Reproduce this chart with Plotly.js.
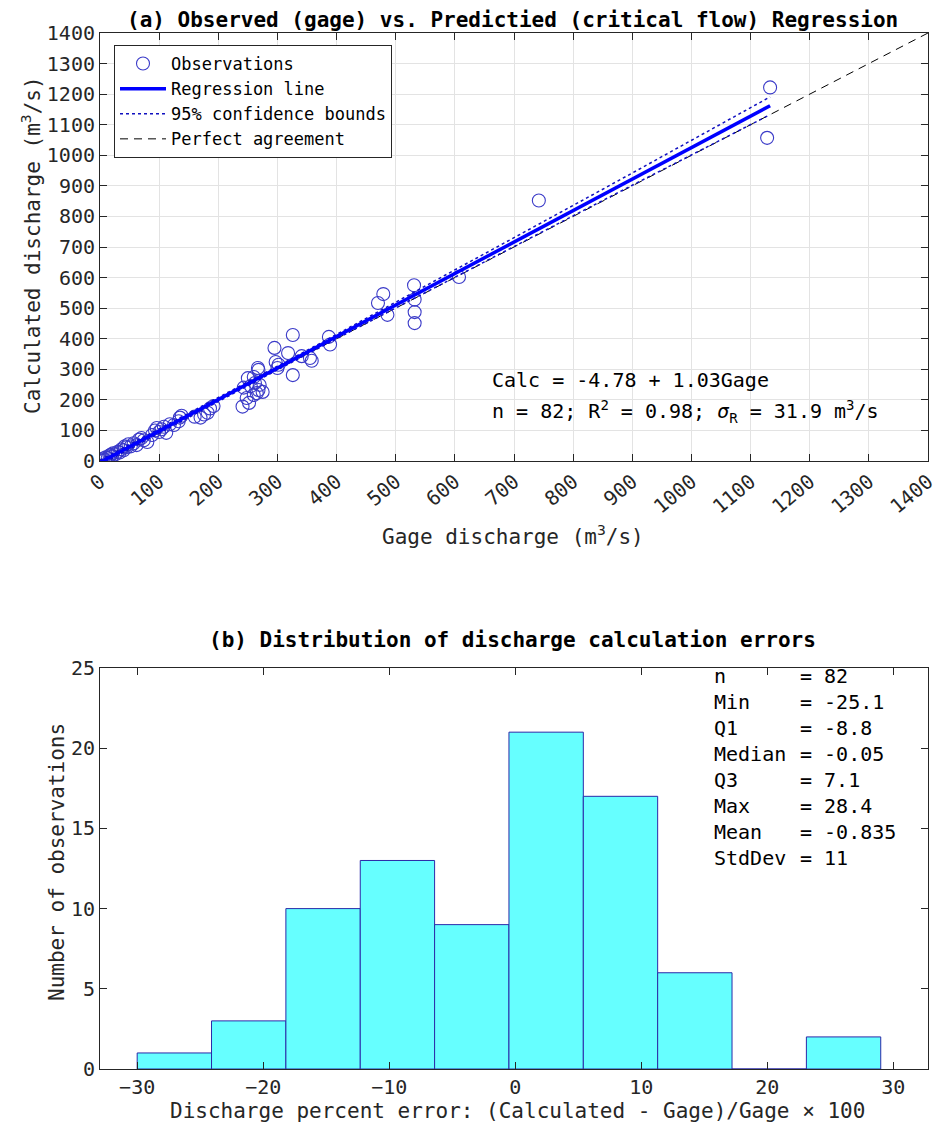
<!DOCTYPE html>
<html>
<head>
<meta charset="utf-8">
<script src="https://cdn.plot.ly/plotly-3.0.1.min.js"></script>
<style>html,body{margin:0;padding:0;background:#fff;}#chart{width:943px;height:1125px;}</style>
</head>
<body>
<div id="chart"></div>
<script>
// ---- Panel (a): observed (gage) vs calculated discharge, m3/s ----
var gageQ = [2, 5, 8, 10, 13, 16, 18, 20, 22, 26, 30, 33, 36, 40, 42, 45, 48, 52, 57, 62,
             66, 70, 74, 80, 88, 93, 96, 100, 104, 108, 112, 118, 125, 133, 135, 138, 160, 170,
             176, 182, 186, 192,
             241, 243, 248, 250, 252, 255, 260, 260, 262, 265, 267, 268, 268, 270, 275,
             295, 297, 300, 302, 318, 326, 326, 341, 355, 358, 387, 389,
             470, 479, 486, 531, 532, 532, 532, 607, 742, 1128, 1133];
var calcQ = [2, 8, 4, 12, 10, 18, 20, 15, 25, 22, 30, 28, 38, 35, 48, 45, 55, 48, 58, 52,
             70, 75, 68, 62, 85, 100, 108, 95, 104, 112, 92, 120, 118, 130, 142, 148, 145, 142,
             152, 158, 172, 180,
             178, 240, 206, 271, 190, 245, 216, 275, 255, 222, 304, 298, 232, 249, 226,
             370, 324, 304, 315, 353, 412, 281, 343, 337, 328, 406, 381,
             517, 546, 478, 575, 528, 487, 451, 602, 852, 1057, 1222];
var regIntercept = -4.78;
var regSlope = 1.03;
var regX = [0, 1133];
var ciX = [0, 100, 200, 300, 400, 500, 600, 700, 800, 900, 1000, 1133];
var ciUpper = [3, 105, 207, 310, 414, 519, 624, 730, 836, 942, 1049, 1191];
var ciLower = [-13, 91, 195, 298, 400, 501, 602, 702, 802, 902, 1001, 1133];
var perfectX = [0, 1400];
var perfectY = [0, 1400];

// ---- Panel (b): histogram of percent errors ----
var binEdges = [-30.0, -24.1, -18.2, -12.3, -6.4, -0.5, 5.4, 11.3, 17.2, 23.1, 29.0];
var binCounts = [1, 3, 10, 13, 9, 21, 17, 6, 0, 2];
var statLabels = ['n', 'Min', 'Q1', 'Median', 'Q3', 'Max', 'Mean', 'StdDev'];
var statValues = ['82', '-25.1', '-8.8', '-0.05', '7.1', '28.4', '-0.835', '11'];

var FONT = 'DejaVu Sans Mono, Liberation Mono, monospace';
var AX = '#262626';

var regY = regX.map(function (x) { return regIntercept + regSlope * x; });
var binCenters = [], binWidths = [];
for (var i = 0; i < binCounts.length; i++) {
  binCenters.push((binEdges[i] + binEdges[i + 1]) / 2);
  binWidths.push(binEdges[i + 1] - binEdges[i]);
}

var traces = [
  {x: perfectX, y: perfectY, type: 'scatter', mode: 'lines', name: 'Perfect agreement',
   line: {color: '#000000', width: 1, dash: '8px,6px'}, legendrank: 4, xaxis: 'x', yaxis: 'y'},
  {x: gageQ, y: calcQ, type: 'scatter', mode: 'markers', name: 'Observations',
   marker: {symbol: 'circle-open', size: 13, color: '#3a3ac8', line: {width: 1.1}},
   legendrank: 1, xaxis: 'x', yaxis: 'y'},
  {x: ciX.concat([null]).concat(ciX), y: ciUpper.concat([null]).concat(ciLower),
   type: 'scatter', mode: 'lines', name: '95% confidence bounds', connectgaps: false,
   line: {color: '#1010c0', width: 1.5, dash: 'dot'}, legendrank: 3, xaxis: 'x', yaxis: 'y'},
  {x: regX, y: regY, type: 'scatter', mode: 'lines', name: 'Regression line',
   line: {color: '#0000ff', width: 3.5}, legendrank: 2, xaxis: 'x', yaxis: 'y'},
  {x: binCenters, y: binCounts, width: binWidths, type: 'bar', showlegend: false,
   marker: {color: '#66ffff', line: {color: '#2a2aa8', width: 1}}, xaxis: 'x2', yaxis: 'y2'}
];

var PL = 100, PR = 15, PT = 33, PB = 56;
var W = 943, H = 1125;
var pw = W - PL - PR, ph = H - PT - PB;
function px(x) { return (x - PL) / pw; }
function py(y) { return (H - PB - y) / ph; }

var axisCommon = {
  showline: true, linecolor: AX, linewidth: 1, mirror: 'ticks', ticks: 'inside',
  ticklen: 7, tickcolor: AX, tickwidth: 1, zeroline: false,
  tickfont: {family: FONT, size: 20, color: '#262626'}
};
function ax(extra) { var o = {}; for (var k in axisCommon) o[k] = axisCommon[k]; for (var k2 in extra) o[k2] = extra[k2]; return o; }

var annotations = [
  {text: '<b>(a) Observed (gage) vs. Predictied (critical flow) Regression</b>', xref: 'paper', yref: 'paper',
   x: px(512), y: py(20), xanchor: 'center', yanchor: 'middle', showarrow: false,
   font: {family: FONT, size: 21, color: '#000'}},
  {text: '<b>(b) Distribution of discharge calculation errors</b>', xref: 'paper', yref: 'paper',
   x: px(512), y: py(640), xanchor: 'center', yanchor: 'middle', showarrow: false,
   font: {family: FONT, size: 21, color: '#000'}},
  {text: 'Gage discharge (m<sup>3</sup>/s)', xref: 'paper', yref: 'paper',
   x: px(513), y: py(535), xanchor: 'center', yanchor: 'middle', showarrow: false,
   font: {family: FONT, size: 21, color: '#262626'}},
  {text: 'Calculated discharge (m<sup>3</sup>/s)', xref: 'paper', yref: 'paper',
   x: px(31), y: py(245), xanchor: 'center', yanchor: 'middle', textangle: -90, showarrow: false,
   font: {family: FONT, size: 21, color: '#262626'}},
  {text: 'Number of observations', xref: 'paper', yref: 'paper',
   x: px(57), y: py(862), xanchor: 'center', yanchor: 'middle', textangle: -90, showarrow: false,
   font: {family: FONT, size: 21, color: '#262626'}},
  {text: 'Discharge percent error: (Calculated - Gage)/Gage \u00d7 100', xref: 'paper', yref: 'paper',
   x: px(517), y: py(1111), xanchor: 'center', yanchor: 'middle', showarrow: false,
   font: {family: FONT, size: 21, color: '#262626'}},
  {text: 'Calc = -4.78 + 1.03Gage', xref: 'paper', yref: 'paper',
   x: px(490), y: py(380), xanchor: 'left', yanchor: 'middle', showarrow: false,
   font: {family: FONT, size: 20, color: '#000'}},
  {text: 'n = 82; R<sup>2</sup> = 0.98; <i>\u03c3</i><sub>R</sub> = 31.9 m<sup>3</sup>/s', xref: 'paper', yref: 'paper',
   x: px(490), y: py(411), xanchor: 'left', yanchor: 'middle', showarrow: false,
   font: {family: FONT, size: 20, color: '#000'}},
  {text: statLabels.join('<br>'), xref: 'paper', yref: 'paper', align: 'left',
   x: px(712), y: py(662), xanchor: 'left', yanchor: 'top', showarrow: false,
   font: {family: FONT, size: 20, color: '#000'}},
  {text: statValues.map(function (v) { return '= ' + v; }).join('<br>'), xref: 'paper', yref: 'paper', align: 'left',
   x: px(798), y: py(662), xanchor: 'left', yanchor: 'top', showarrow: false,
   font: {family: FONT, size: 20, color: '#000'}}
];

var layout = {
  width: W, height: H,
  margin: {l: PL, r: PR, t: PT, b: PB},
  paper_bgcolor: '#ffffff', plot_bgcolor: '#ffffff',
  font: {family: FONT, color: '#262626'},
  showlegend: true,
  legend: {x: px(114), y: py(45), xanchor: 'left', yanchor: 'top',
           bgcolor: '#ffffff', bordercolor: '#262626', borderwidth: 1,
           font: {family: FONT, size: 17, color: '#000'}, itemwidth: 46, tracegroupgap: 0},
  xaxis: ax({domain: [0, 1], anchor: 'y', range: [0, 1400], dtick: 100, tick0: 0,
             showgrid: true, gridcolor: '#e3e3e3', tickangle: -40}),
  yaxis: ax({domain: [py(461), 1], anchor: 'x', range: [0, 1400], dtick: 100, tick0: 0,
             showgrid: true, gridcolor: '#e3e3e3'}),
  xaxis2: ax({domain: [0, 1], anchor: 'y2', range: [-32.95, 32.75], dtick: 10, tick0: 0,
              showgrid: false}),
  yaxis2: ax({domain: [0, py(668)], anchor: 'x2', range: [0, 25], dtick: 5, tick0: 0,
              showgrid: false}),
  bargap: 0,
  annotations: annotations
};

Plotly.newPlot('chart', traces, layout, {displayModeBar: false, staticPlot: true});
</script>
</body>
</html>
